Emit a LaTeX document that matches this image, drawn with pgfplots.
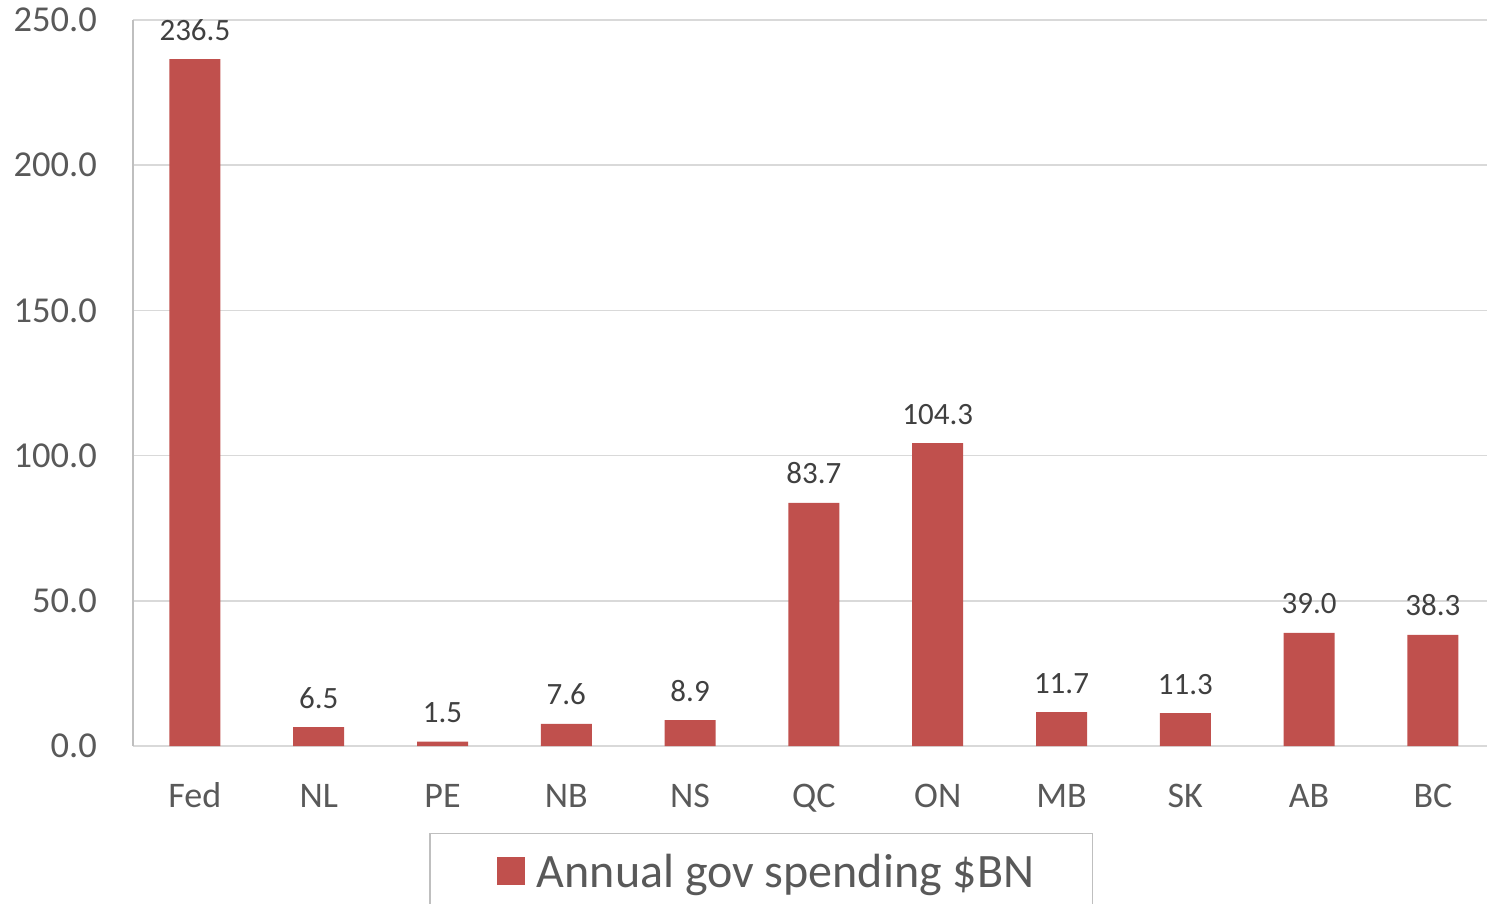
\documentclass[border=0pt]{standalone}
\usepackage{fontspec}
\setmainfont{Carlito}
\usepackage{pgfplots}
\pgfplotsset{compat=1.18}
\definecolor{barred}{HTML}{C0504D}
\definecolor{ticktext}{HTML}{595959}
\definecolor{labeltext}{HTML}{404040}
\definecolor{gridgray}{HTML}{D9D9D9}
\definecolor{axisgray}{HTML}{BFBFBF}
\begin{document}
\begin{tikzpicture}
\begin{axis}[
  name=ax, at={(0,0)}, anchor=south west,
  scale only axis, width=1361.8pt, height=726pt,
  xmin=-0.5, xmax=10.5, ymin=0, ymax=250,
  ybar, bar width=51pt,
  xtick=data, xticklabels={Fed,NL,PE,NB,NS,QC,ON,MB,SK,AB,BC},
  ytick={0,50,...,250},
  scaled y ticks=false,
  ymajorgrids, grid style={gridgray, line width=1.5pt},
  axis lines=left, axis line style={-},
  x axis line style={gridgray, line width=1.5pt},
  y axis line style={axisgray, line width=1.5pt},
  major tick length=0pt, tick style={draw=none},
  /pgf/number format/assume math mode=true,
  yticklabel style={/pgf/number format/fixed, /pgf/number format/fixed zerofill, /pgf/number format/precision=1,
    anchor=east, inner sep=0pt, xshift=-36pt, font=\fontsize{36.5}{42}\selectfont, text=ticktext},
  xticklabel style={anchor=base, inner sep=0pt, yshift=-61pt, font=\fontsize{36}{42}\selectfont, text=ticktext},
  nodes near coords={\pgfmathprintnumber[fixed,fixed zerofill,precision=1]{\pgfplotspointmeta}},
  nodes near coords style={anchor=base, inner sep=0pt, yshift=19pt, font=\fontsize{31}{36}\selectfont, text=labeltext},
  legend style={at={(0.2174,-0.1198)}, anchor=north west, draw=axisgray, line width=1.5pt,
    font=\fontsize{48}{56}\selectfont, text=ticktext, inner xsep=58pt, inner ysep=20pt,
    nodes={inner sep=0pt},
    /tikz/every odd column/.append style={column sep=12pt}},
  legend image code/.code={\path (0pt,0pt); \fill[barred] (9pt,-14pt) rectangle (37pt,14pt);},
]
\addplot[fill=barred, draw=none] coordinates {
  (0,236.5) (1,6.5) (2,1.5) (3,7.6) (4,8.9) (5,83.7) (6,104.3) (7,11.7) (8,11.3) (9,39.0) (10,38.3)};
\addlegendentry{Annual gov spending \$BN}
\end{axis}
\pgfresetboundingbox
\useasboundingbox ([xshift=-133pt,yshift=-157pt]ax.south west) rectangle ([xshift=1354pt,yshift=746pt]ax.south west);
\end{tikzpicture}
\end{document}
